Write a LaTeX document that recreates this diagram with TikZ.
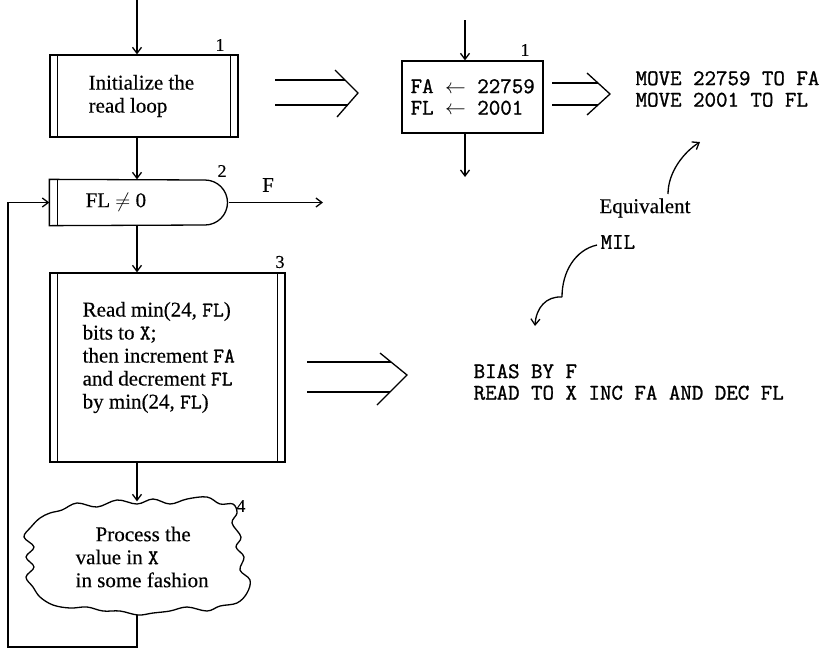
\documentclass[tikz,border=0pt]{standalone}
\usepackage{fontspec}
\setmainfont{Liberation Serif}[FakeBold=0.3]
\setmonofont{Latin Modern Mono}[FakeBold=1.2]
\usetikzlibrary{arrows.meta,calc}
\begin{document}
\begin{tikzpicture}[x=1pt,y=-1pt, line width=1.3pt,
  arr/.style={-{Straight Barb[length=6pt,width=9pt]}},
  lbl/.style={font=\fontsize{18}{18}\selectfont, inner sep=0pt},
  txt/.style={font=\fontsize{21}{23}\selectfont, align=left, inner sep=0pt},
  mono/.style={font=\ttfamily\fontsize{22.3}{21.5}\selectfont, align=left, inner sep=0pt},
  box/.style={draw, rectangle, inner sep=0pt},
  ghost/.style={rectangle, inner sep=0pt}]
\useasboundingbox (0,0) rectangle (826,657);

% ---------- left column ----------
\coordinate (in1) at (137,0);
\node[box, minimum width=188pt, minimum height=82pt] (b1) at (144,96) {};
\draw ($(b1.north west)+(8,0)$) -- ($(b1.south west)+(8,0)$);
\draw ($(b1.north east)+(-8,0)$) -- ($(b1.south east)+(-8,0)$);
\node[txt, anchor=west] (b1t) at (88,96) {Initialize the\\read loop};
\node[lbl] (l1) at (220,45) {1};
\draw[arr] (in1) -- (in1 |- b1.north);

\node[ghost, minimum width=178pt, minimum height=45pt] (b2) at (139,202.5) {};
\draw (b2.north west) -- (205,180) .. controls (217.4,180) and (227.5,190.1) .. (227.5,202.5)
      .. controls (227.5,214.9) and (217.4,225) .. (205,225) -- (b2.south west) -- cycle;
\draw ($(b2.north west)+(8,0)$) -- ($(b2.south west)+(8,0)$);
\node[txt, anchor=west] (b2t) at (85,202) {FL $\neq$ 0};
\node[lbl] (l2) at (222,171) {2};
\draw[arr] (in1 |- b1.south) -- (in1 |- b2.north);
\coordinate (fout) at (323,202.5);
\draw[arr] (b2.east) -- (fout);
\node[txt] (ft) at (268,185) {F};

\node[box, minimum width=235pt, minimum height=189pt] (b3) at (167.5,367.5) {};
\draw ($(b3.north west)+(8,0)$) -- ($(b3.south west)+(8,0)$);
\draw ($(b3.north east)+(-8,0)$) -- ($(b3.south east)+(-8,0)$);
\node[txt, anchor=west] (b3t) at (82,357.5) {Read min(24, \texttt{FL})\\bits to \texttt{X};\\then increment \texttt{FA}\\and decrement \texttt{FL}\\by min(24, \texttt{FL})};
\node[lbl] (l3) at (280,262) {3};
\draw[arr] (in1 |- b2.south) -- (in1 |- b3.north);

% cloud
\node[ghost, minimum width=225pt, minimum height=112pt] (c4) at (137,558) {};
\draw plot[smooth cycle, tension=0.6] coordinates {
 (50,513) (62,510) (77,503) (97,507) (117,500) (137,504) (153,499) (170,504) (187,499) (207,497)
 (220,504) (233,504) (237,513) (232,523) (241,537) (236,547) (244,557) (240,570) (250,580)
 (247,593) (237,603) (220,606) (207,611) (187,607) (170,611) (153,613) (138,615) (120,611)
 (103,611) (87,607) (70,608) (53,605) (40,597) (33,587) (26,577) (34,567) (26,557) (34,547)
 (24,537) (31,527) (40,518)};
\node[txt, anchor=west] (c4t) at (75,557) {\hspace*{20pt}Process the\\value in \texttt{X}\\in some fashion};
\node[lbl] (l4) at (241,506) {4};
\draw[arr] (in1 |- b3.south) -- (in1 |- c4.north);
\coordinate (lb) at (8,647);
\draw[arr] (c4.south) -- (c4.south |- lb) -- (lb) -- (lb |- b2.west) -- (b2.west);

% ---------- double arrows ----------
\draw (275,80) -- (345,80) (275,105) -- (347.5,105);
\draw (335,70) -- (358,93) -- (337,117);
\draw (552,83) -- (598,83) (552,105) -- (598,105);
\draw (587,73) -- (610,94) -- (587,115);
\draw (307,362) -- (391,362) (307,392) -- (390,392);
\draw (380,353) -- (407,375) -- (377,405);

% ---------- right side ----------
\node[box, minimum width=141pt, minimum height=72pt] (fb) at (472.5,97) {};
\node[mono, anchor=west] (fbt) at (410,97) {FA~$\leftarrow$~22759\\FL~$\leftarrow$~2001};
\node[lbl] (l1b) at (525,50) {1};
\coordinate (fin) at (465,20);
\coordinate (fo) at (465,177);
\draw[arr] (fin) -- (fin |- fb.north);
\draw[arr] (fin |- fb.south) -- (fo);

\node[mono, anchor=west] (mv) at (635,89) {MOVE 22759 TO FA\\MOVE 2001 TO FL};

\node[txt] (eqv) at (645,208) {Equivalent};
\coordinate (eqs) at (668,194);
\coordinate (eqe) at (700,142);
\draw[arr] (eqs) .. controls (668,172) and (684,152) .. (eqe);

\node[mono, anchor=west] (mil) at (600,242) {MIL};
\coordinate (ms) at (597,245);
\coordinate (mc) at (562,297);
\coordinate (me) at (535,326);
\draw (ms) .. controls (575,250) and (562,272) .. (mc);
\draw[arr] (mc) .. controls (546,296) and (536,308) .. (me);

\node[mono, anchor=west] (bias) at (473,382) {BIAS BY F\\READ TO X INC FA AND DEC FL};
\end{tikzpicture}
\end{document}
